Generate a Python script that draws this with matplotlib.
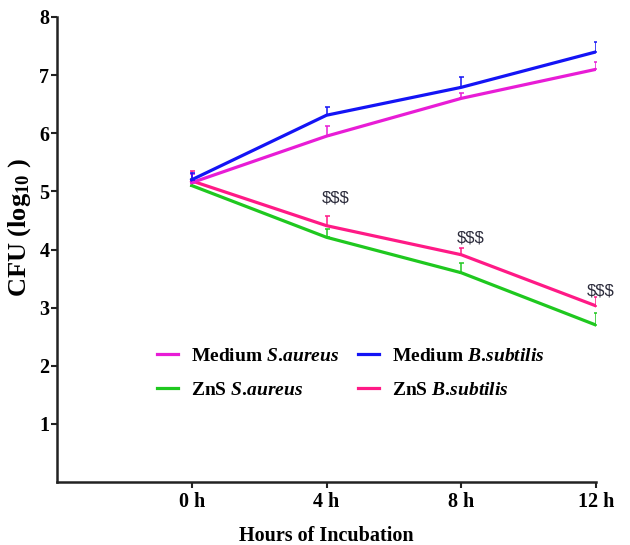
import matplotlib
matplotlib.use("Agg")
import matplotlib.pyplot as plt
import numpy as np

plt.rcParams['font.family'] = ['Liberation Serif', 'DejaVu Serif']
plt.rcParams['font.weight'] = 'bold'
plt.rcParams['mathtext.fontset'] = 'custom'
plt.rcParams['mathtext.rm'] = 'Liberation Serif:bold'
plt.rcParams['mathtext.it'] = 'Liberation Serif:bold:italic'
plt.rcParams['mathtext.bf'] = 'Liberation Serif:bold'

hours = [0, 4, 8, 12]
hour_labels = ['0 h', '4 h', '8 h', '12 h']

medium_saureus = [5.15, 5.95, 6.60, 7.10]
medium_saureus_err = [0.15, 0.17, 0.09, 0.13]
medium_bsubtilis = [5.20, 6.31, 6.79, 7.40]
medium_bsubtilis_err = [0.12, 0.14, 0.17, 0.17]
zns_saureus = [5.10, 4.21, 3.60, 2.70]
zns_saureus_err = [0.12, 0.15, 0.16, 0.20]
zns_bsubtilis = [5.18, 4.41, 3.91, 3.03]
zns_bsubtilis_err = [0.17, 0.16, 0.12, 0.16]

sig_x = [4.27, 8.27, 12.15]
sig_y = [4.88, 4.19, 3.29]
sig_text = r'\$\$\$'

c_mag = '#E81CD6'
c_blue = '#1414F5'
c_green = '#1FC81F'
c_pink = '#FF1A86'

lab_ms = 'Medium $\\mathit{S.\\!aureus}$'
lab_mb = 'Medium $\\mathit{B.\\!subtilis}$'
lab_zs = 'ZnS $\\mathit{S.\\!aureus}$'
lab_zb = 'ZnS $\\mathit{B.\\!subtilis}$'

fig = plt.figure(figsize=(6.3, 5.45), dpi=100)
ax = fig.add_axes([57/630, 1-482/545, (596-57)/630, (482-17)/545])

series = [
    (zns_saureus, zns_saureus_err, c_green, lab_zs),
    (zns_bsubtilis, zns_bsubtilis_err, c_pink, lab_zb),
    (medium_saureus, medium_saureus_err, c_mag, lab_ms),
    (medium_bsubtilis, medium_bsubtilis_err, c_blue, lab_mb),
]
handles = {}
for vals, err, col, lab in series:
    e = np.array(err)
    ax.errorbar(hours, vals, yerr=[np.zeros_like(e), e], color=col, lw=0, elinewidth=1.1,
                capsize=1.8, capthick=1.1)
    h, = ax.plot(hours, vals, color=col, lw=2.3, label=lab)
    handles[lab] = h

for xh, yv in zip(sig_x, sig_y):
    ax.text(xh, yv, sig_text, ha='center', va='center', family=['Liberation Sans'],
            fontsize=12, color='#2a2a3a', fontweight='normal')

ax.set_xlim(-4, 12)
ax.set_ylim(0, 8)
ax.set_xticks(hours)
ax.set_xticklabels(hour_labels)
ax.set_yticks([1, 2, 3, 4, 5, 6, 7, 8])
for s in ['top', 'right']:
    ax.spines[s].set_visible(False)
for s in ['left', 'bottom']:
    ax.spines[s].set_linewidth(1.8)
    ax.spines[s].set_color('#222222')
ax.tick_params(axis='both', labelsize=14.5, width=1.5, length=4.5, color='#222222')
ax.tick_params(axis='x', pad=3)
ax.tick_params(axis='y', pad=1)

ax.set_ylabel('CFU (log$_{10}$ )', fontsize=19, fontweight='bold')
ax.yaxis.set_label_coords(-0.045, 0.546)
ax.set_xlabel('Hours of Incubation', fontsize=14.5, fontweight='bold', labelpad=10)

order = [lab_ms, lab_zs, lab_mb, lab_zb]
leg = fig.legend([handles[k] for k in order], order, ncol=2, frameon=False,
                 loc='upper left', bbox_to_anchor=(139/630, 1-330/545),
                 fontsize=14, handlelength=1.08, handletextpad=0.67,
                 columnspacing=1.0, labelspacing=0.85)

fig.savefig('out.png', dpi=100)
